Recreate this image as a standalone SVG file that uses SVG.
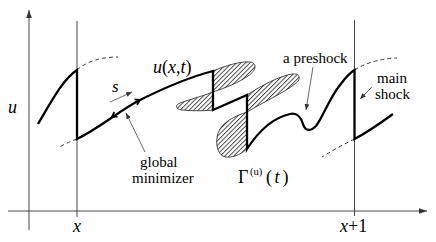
<svg xmlns="http://www.w3.org/2000/svg" width="436" height="242" viewBox="0 0 436 242">
<style>
.thin{fill:none;stroke:#333;stroke-width:0.9}
.thick{fill:none;stroke:#000;stroke-width:2.3;stroke-linejoin:miter}
.dash{fill:none;stroke:#222;stroke-width:0.9;stroke-dasharray:4 3}
.blob{fill:url(#hatch);stroke:#222;stroke-width:0.8}
.arr{fill:none;stroke:#444;stroke-width:0.8;marker-end:url(#ah)}
</style>
<defs>
<pattern id="hatch" patternUnits="userSpaceOnUse" width="3.2" height="3.2" patternTransform="rotate(45)">
<line x1="0.5" y1="0" x2="0.5" y2="3.2" stroke="#222" stroke-width="0.8"/>
</pattern>
<marker id="ah" viewBox="0 0 10 10" refX="10" refY="5" markerWidth="6" markerHeight="6" markerUnits="userSpaceOnUse" orient="auto">
<path d="M0,1 L10,5 L0,9 Z" fill="#333"/>
</marker>
<marker id="axh" viewBox="0 0 10 10" refX="10" refY="5" markerWidth="8" markerHeight="8" markerUnits="userSpaceOnUse" orient="auto">
<path d="M0,1.5 L10,5 L0,8.5 Z" fill="#333"/>
</marker>
</defs>
<g id="axes">
<path class="thin" d="M29,230 L29,10" marker-end="url(#axh)"/>
<path class="thin" d="M8,211 L427,211" marker-end="url(#axh)"/>
<path class="thin" d="M77,21 L77,217"/>
<path class="thin" d="M354.5,20 L354.5,216"/>
</g>
<g id="blob1">
<path class="blob" d="M213,71 C225,66 240,61 250,62 C257,63 257,70 248,76 C240,82 225,88 213,92 C203,96 188,100 180,103 C175,105 175,109 182,110 C192,111 205,111 213,110 Z"/>
</g>
<g id="blob2">
<path class="blob" d="M247,95 C262,85 280,76 292,74 C300,73 302,79 295,84 C285,92 262,103 247,112 C235,116 222,122 218,133 C215,143 217,156 226,157 C236,158 243,152 247,149 Z"/>
</g>
<g id="connectors">
<path class="dash" d="M77,70 Q92,57 118,57"/>
<path class="dash" d="M77,139 Q66,143 58,148"/>
<path class="dash" d="M354.5,70 Q372,59 397,58"/>
<path class="dash" d="M354.5,139 Q338,147 322,157"/>
<path class="thick" d="M38,124 C50,104 62,80 77,70 L77,139 C100,128 120,110 140,100 C160,90 190,77 213,71 L213,110 L247,95 L247,149 C258,132 272,118 290,114 C298,112 301,118 303,124 C305,131 310,132 316,126 C322,119 330,97 340,85 C346,77 351,72 354.5,70 L354.5,139 C368,132 382,122 393,114"/>
<path fill="none" stroke="#000" stroke-width="1.8" d="M134.5,99.3 L140,100 L137,104.8"/>
<path fill="none" stroke="#000" stroke-width="1.8" d="M117.5,116.6 L112,117 L114.3,112"/>
<path class="arr" d="M110,102 L132,92"/>
<path class="arr" d="M145,152 L126,113"/>
<path class="arr" d="M313,67 L306,110"/>
<path class="arr" d="M372,87 L360,99"/>
</g>
<g id="labels" font-family="Liberation Serif, Times New Roman, serif" fill="#000">
<text font-style="italic" font-size="18" x="8" y="113">u</text>
<text font-style="italic" font-size="18" x="73" y="232">x</text>
<text font-size="18" x="340" y="232"><tspan font-style="italic">x</tspan>+1</text>
<text font-size="18" x="153" y="73"><tspan font-style="italic">u</tspan>(<tspan font-style="italic">x</tspan>,<tspan font-style="italic">t</tspan>)</text>
<text font-style="italic" font-size="17" x="112" y="92">s</text>
<text font-size="15" x="140" y="167">global</text>
<text font-size="15" x="132" y="183">minimizer</text>
<text font-size="15" x="283" y="63">a preshock</text>
<text font-size="15" x="377" y="83">main</text>
<text font-size="15" x="375" y="99">shock</text>
<text font-size="18" x="238" y="183">Γ</text>
<text font-size="10.5" x="250" y="175">(u)</text>
<text font-size="18" x="266" y="183">(</text>
<text font-style="italic" font-size="18" x="274.5" y="183">t</text>
<text font-size="18" x="282.5" y="183">)</text>
</g>
</svg>
